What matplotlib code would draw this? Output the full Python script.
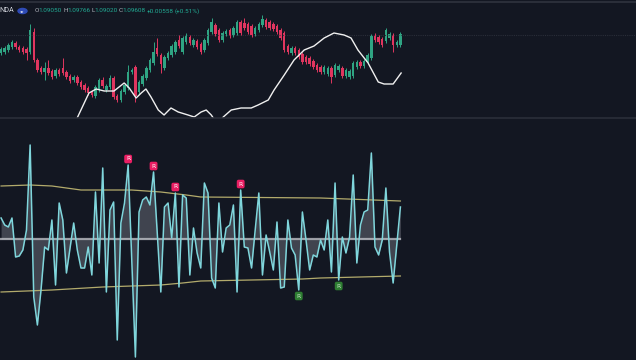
import numpy as np
import matplotlib.pyplot as plt
from matplotlib.patches import Circle
from matplotlib.lines import Line2D

# candles (price units)
opens = [67, 68, 70, 73, 77, 73, 72, 71, 68, 88, 60, 52, 48, 52, 49, 44, 50, 52, 48, 44,
         40, 43, 38, 35, 32, 28, 24, 30, 40, 30, 33, 42, 24, 20, 28, 32, 48, 53, 28, 36,
         42, 50, 57, 72, 65, 52, 62, 65, 68, 80, 68, 78, 83, 75, 79, 76, 70, 77, 88, 95,
         90, 80, 86, 90, 85, 87, 98, 97, 96, 94, 86, 90, 95, 100, 98, 96, 94, 90, 87, 74,
         67, 72, 70, 66, 63, 62, 59, 55, 53, 48, 46, 52, 45, 50, 52, 44, 43, 44, 53, 58,
         54, 58, 62, 85, 83, 81, 79, 82, 85, 75, 75]
closes = [71, 72, 75, 78, 73, 70, 68, 67, 90, 60, 50, 48, 52, 47, 43, 50, 46, 47, 43, 39,
          43, 37, 33, 30, 27, 25, 33, 40, 34, 34, 42, 23, 20, 29, 35, 48, 50, 24, 38, 44,
          52, 60, 68, 66, 56, 63, 67, 74, 78, 74, 82, 85, 77, 80, 73, 68, 80, 90, 98, 86,
          80, 87, 89, 84, 92, 98, 87, 92, 88, 85, 92, 96, 101, 93, 92, 91, 88, 82, 70, 68,
          72, 67, 63, 58, 58, 56, 53, 50, 48, 53, 52, 43, 55, 54, 44, 50, 49, 57, 58, 54,
          59, 65, 84, 80, 78, 75, 90, 86, 75, 78, 86]
highs = [73, 74, 77, 80, 79, 75, 74, 73, 96, 92, 62, 54, 58, 60, 51, 52, 52, 62, 50, 46,
         45, 45, 40, 37, 34, 30, 35, 42, 43, 36, 45, 44, 26, 31, 37, 55, 52, 55, 40, 46,
         54, 62, 78, 82, 67, 65, 69, 76, 80, 85, 84, 87, 85, 82, 81, 78, 82, 92, 102, 97,
         92, 89, 91, 92, 94, 100, 100, 102, 98, 96, 94, 98, 105, 102, 100, 98, 96, 92, 89, 76,
         74, 74, 72, 68, 65, 64, 61, 57, 55, 55, 54, 54, 57, 56, 54, 52, 51, 59, 60, 60,
         61, 67, 86, 87, 85, 83, 92, 88, 87, 80, 88]
lows = [65, 66, 68, 71, 71, 68, 66, 60, 66, 58, 48, 46, 40, 45, 41, 42, 44, 45, 41, 37,
        38, 35, 31, 28, 25, 23, 22, 28, 32, 28, 31, 21, 18, 18, 26, 30, 46, 18, 26, 34,
        40, 48, 55, 64, 47, 50, 60, 63, 66, 72, 66, 76, 75, 73, 71, 66, 68, 75, 86, 84,
        78, 78, 84, 82, 83, 85, 85, 90, 86, 83, 84, 88, 93, 91, 90, 89, 86, 80, 68, 66,
        65, 65, 61, 56, 56, 54, 51, 48, 46, 46, 44, 37, 43, 48, 42, 42, 41, 42, 51, 52,
        52, 56, 60, 78, 76, 73, 77, 80, 68, 73, 73]

# white overlay line in price pane
line_bar = [20.7, 24.2, 26.2, 28.4, 31.1, 33.9, 35.3, 37.2, 38.6, 39.9, 41.3, 43.3, 44.9,
            46.8, 48.8, 51.5, 53.2, 55.1, 56.5, 57.9, 59.0, 60.3, 61.2, 63.4, 66.1, 68.9,
            70.8, 73.6, 75.2, 78.0, 80.7, 83.5, 86.2, 89.0, 91.7, 94.5, 96.4, 98.3, 101.1,
            103.9, 105.5, 108.0, 110.2]
line_val = [0, 27, 31, 29, 29, 37, 32, 22, 27, 31, 23, 10, 5, 12, 8, 5, 3, 8, 10, 5, -1, -1,
            3, 10, 12, 12, 15, 20, 30, 45, 60, 70, 74, 82, 87, 85, 82, 70, 57, 38, 36, 36, 47]

# oscillator
osc = [21, 14, 12, 21, -18, -17, -11, 9, 94, -58, -86, -51, -8, -11, 19, -46, 36, 19, -34, -9,
       16, -11, -29, -29, -8, -36, 47, -24, 71, -53,
       29, 37, -101, 16, 36, 74, -21, -118, 27, 39, 42, 34, 67, 7, -53, 32, 36, 1, 46, -48,
       44, 41, -36, 11, -14, -29,
       56, 46, -39, -49, 36, -13, 11, 14, 34, -53, 49, -8, -9, -29, 9, 46, -36, 4, -13, -31,
       17, -49, -48, 19, -9, -16, -51, 27,
       -1, -31, -16, -18, -1, -11, 19, -33, 56, -41, 2, -14, 2, 64, -24, 14, 27, 29, 86, -8,
       -16, -1, 51, -13, -44, -6, 32]
up_bar = [0, 8, 14, 22, 36, 44, 51, 55, 88, 110]
up_val = [53, 54, 53, 49, 49, 47, 44, 42, 41, 38]
lo_bar = [0, 14, 28, 44, 50, 55, 69, 83, 88, 110]
lo_val = [-53, -51, -48, -46, -44, -42, -41, -40, -39, -37]
bear_idx = [35, 42, 48, 66]
bull_idx = [82, 93]

# header pieces: text, colour, gap before (px)
header = [("O", '#b2b5be', 0), ("1.09050", '#22ab94', -0.5), ("H", '#b2b5be', 1.2),
          ("1.09766", '#22ab94', -0.5), ("L", '#b2b5be', 1.2), ("1.09020", '#22ab94', -0.5),
          ("C", '#b2b5be', 1.2), ("1.09608", '#22ab94', -0.5), ("+0.00558", '#22ab94', 1.2),
          ("(+0.51%)", '#22ab94', 1.2)]

bg = '#131722'
green = '#2fa483'
red = '#e0365f'
W, H = 636, 360

fig = plt.figure(figsize=(6.36, 3.6), dpi=100, facecolor=bg)
ax1 = fig.add_axes([0, 242 / H, 1, 118 / H])
ax2 = fig.add_axes([0, 0, 1, 240 / H])
for ax in (ax1, ax2):
    ax.set_facecolor(bg)
    ax.set_xlim(-0.3, 174.9)
    ax.set_axis_off()

# price pane
o = np.array(opens)
c = np.array(closes)
x = np.arange(len(o))
col = np.where(c >= o, green, red)
ax1.axhline(85, color='#2a2e39', lw=0.8, ls=(0, (1, 1)))
ax1.vlines(x, lows, highs, colors=col, lw=0.7)
ax1.bar(x, np.maximum(np.abs(c - o), 0.8), bottom=np.minimum(o, c), width=0.68, color=col, lw=0)
ax1.plot(line_bar, line_val, color='#f0f0f0', lw=1.0)
ax1.set_ylim(2, 120)

# oscillator pane
xo = np.arange(len(osc))
ax2.fill_between(xo, osc, 0, color='#787b86', alpha=0.45, lw=0)
ax2.plot([0, len(osc) - 1], [0, 0], color='#c8cad0', lw=1.6, alpha=0.75)
ax2.plot(up_bar, up_val, color='#b3ab6c', lw=0.9)
ax2.plot(lo_bar, lo_val, color='#b3ab6c', lw=0.9)
ax2.plot(xo, osc, color='#7fd6dc', lw=1.1)
for i in bear_idx:
    ax2.text(i, osc[i] + 6, 'R', ha='center', va='center', fontsize=4.3, color='white',
             bbox=dict(boxstyle='round,pad=0.3', fc='#e91e63', ec='none'))
for i in bull_idx:
    ax2.text(i, osc[i] - 6, 'R', ha='center', va='center', fontsize=4.3, color='#c8e6c9',
             bbox=dict(boxstyle='round,pad=0.3', fc='#2e7d32', ec='none'))
ax2.set_ylim(-121, 119)

# header and pane borders
fig.add_artist(Line2D([0, 1], [1 - 1.5 / H, 1 - 1.5 / H], color='#2a2e39', lw=1.5))
fig.add_artist(Line2D([0, 1], [1 - 118.5 / H, 1 - 118.5 / H], color='#2a2e39', lw=1.2))
fig.text(-1 / W, 1 - 11 / H, "NDA", fontsize=5.2, color='#d1d4dc', family='Roboto',
         ha='left', va='center')
fig.add_artist(Circle((22.5 / W, 1 - 11 / H), 4.5 / W, transform=fig.transFigure,
                      color='#2f4bb5'))
fig.text(22.5 / W, 1 - 11 / H, "\u25c2\u25b8", fontsize=3.2, color='white', ha='center', va='center')

renderer = fig.canvas.get_renderer()
xpos = 35.0
for s, cl, gap in header:
    xpos += gap
    t = fig.text(xpos / W, 1 - 11 / H, s, fontsize=4.6, color=cl, family='Roboto',
                 ha='left', va='center')
    xpos += t.get_window_extent(renderer).width

fig.savefig('out.png', dpi=100, facecolor=bg)
